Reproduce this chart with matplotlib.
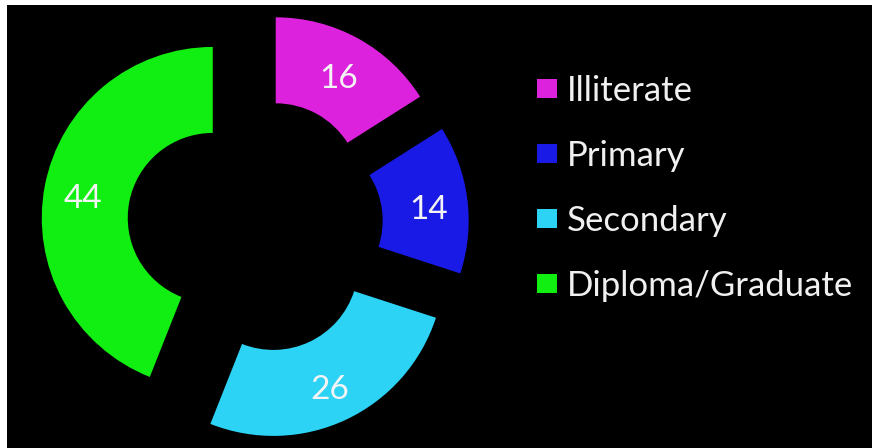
import matplotlib.pyplot as plt
from matplotlib.patches import Rectangle

categories = ["Illiterate", "Primary", "Secondary", "Diploma/Graduate"]
counts = [16, 14, 26, 44]
colors = ["#dd22dd", "#1a1ae6", "#2cd3f5", "#11ee11"]

W, H = 872, 448
fig = plt.figure(figsize=(W / 100, H / 100), dpi=100, facecolor="white")
# axes in pixel units so the ring geometry is easy to place
ax = fig.add_axes([0, 0, 1, 1])
ax.add_patch(Rectangle((7, 0), W - 7, H - 5, facecolor="black", zorder=0))

radius = 171
total = sum(counts)
wedges, _, autotexts = ax.pie(
    counts,
    colors=colors,
    center=(255, H - 226),
    radius=radius,
    explode=[43] * len(counts),
    startangle=90,
    counterclock=False,
    wedgeprops=dict(width=86, linewidth=0),
    autopct=lambda p: f"{p * total / 100:.0f}",
    pctdistance=0.77,
    textprops=dict(color="#f4f4f4", fontsize=24, family="Lato"),
    frame=True,
)
# value labels sit a little below the ring midline
for t in autotexts:
    x, y = t.get_position()
    t.set_position((x, y - 6))

ax.set_xlim(0, W)
ax.set_ylim(0, H)
ax.set_aspect("auto")
ax.axis("off")

ax.legend(
    wedges,
    categories,
    loc="upper left",
    bbox_to_anchor=(537 / W, 1 - 75 / H),
    frameon=False,
    labelcolor="#f0f0f0",
    prop=dict(family="Lato", size=25),
    handlelength=0.58,
    handleheight=0.49,
    handletextpad=0.29,
    labelspacing=0.95,
    borderpad=0,
    borderaxespad=0,
)

fig.savefig("out.png", dpi=100, facecolor="white")
